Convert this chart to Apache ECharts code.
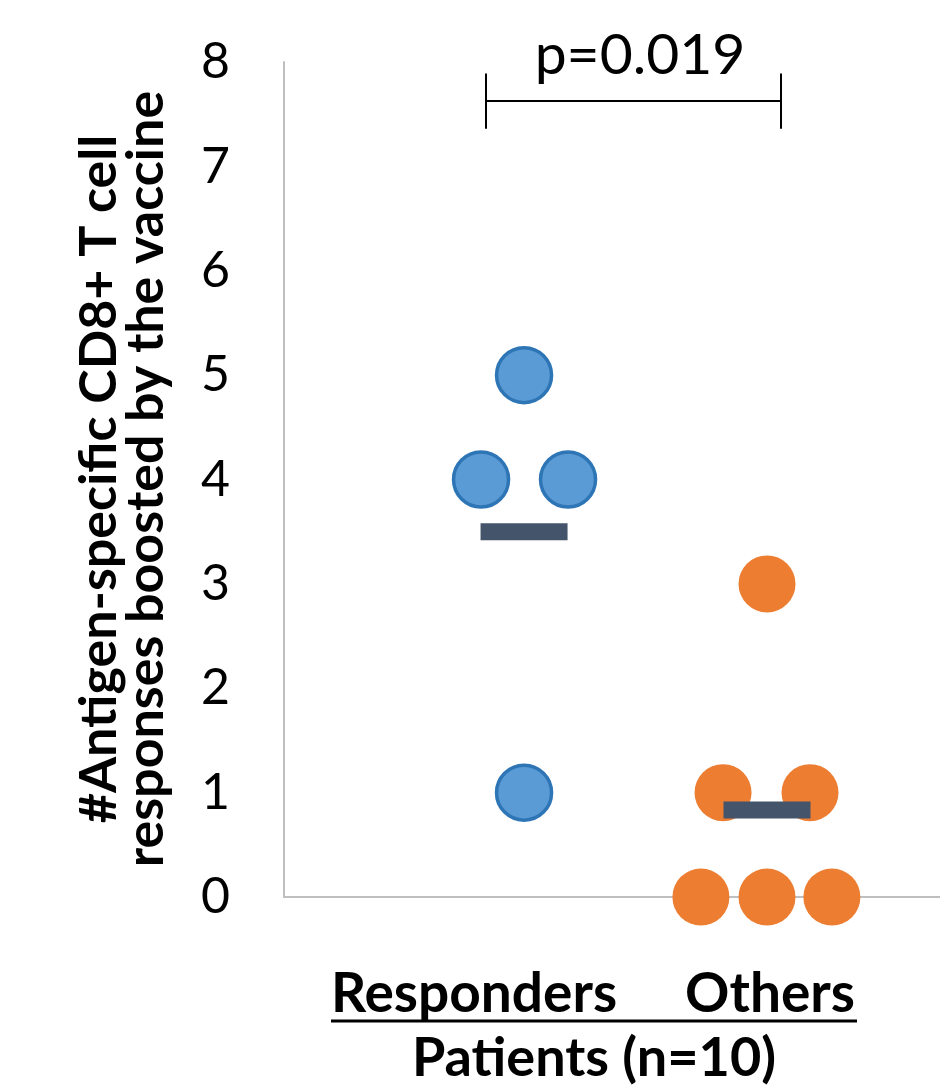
<!DOCTYPE html>
<html>
<head>
<meta charset="utf-8">
<script src="https://cdn.jsdelivr.net/npm/echarts@6/dist/echarts.min.js"></script>
<style>
html,body{margin:0;padding:0;background:#fff;}
#chart{width:940px;height:1086px;}
</style>
</head>
<body>
<div id="chart"></div>
<script>
// ---- data ----
var categories = ['Responders', 'Others'];
var responders = [[1.00, 5], [0.823, 4], [1.181, 4], [1.00, 1]];
var others = [[2.00, 3], [1.819, 1], [2.177, 1], [1.728, 0], [2.00, 0], [2.267, 0]];
var yTicks = [0, 1, 2, 3, 4, 5, 6, 7, 8];
var pValueText = 'p=0.019';
var bracket = { x1: 0.843, x2: 2.057, y: 7.63, top: 7.89, bottom: 7.36 };
var yTitle = ['#Antigen-specific CD8+ T cell', 'responses boosted by the vaccine'];
var xTitle = 'Patients (n=10)';

function mean(arr) {
  var s = 0;
  arr.forEach(function (d) { s += d[1]; });
  return s / arr.length;
}
var meanData = [[1, mean(responders)], [2, mean(others)]];

var FONT = 'Lato';
var chart = echarts.init(document.getElementById('chart'), null, { renderer: 'canvas' });

var option = {
  backgroundColor: '#ffffff',
  animation: false,
  grid: { left: 284, top: 62, right: 0, bottom: 189, containLabel: false },
  xAxis: {
    type: 'value', min: 0.012, max: 2.712,
    axisLine: { show: true, onZero: false, lineStyle: { color: '#BFBFBF', width: 2 } },
    axisTick: { show: false }, axisLabel: { show: false }, splitLine: { show: false }
  },
  yAxis: {
    type: 'value', min: yTicks[0], max: yTicks[yTicks.length - 1], interval: 1,
    axisLine: { show: true, lineStyle: { color: '#BFBFBF', width: 2 } },
    axisTick: { show: false }, splitLine: { show: false },
    axisLabel: { color: '#000', fontFamily: FONT, fontSize: 50, margin: 54 }
  },
  series: [
    {
      type: 'scatter', data: responders, symbol: 'circle', symbolSize: 55,
      itemStyle: { color: '#5B9BD5', borderColor: '#2E75B6', borderWidth: 3.5, opacity: 1 }, z: 3
    },
    {
      type: 'scatter', data: others, symbol: 'circle', symbolSize: 57,
      itemStyle: { color: '#ED7D31', opacity: 1 }, z: 3
    },
    {
      type: 'scatter', data: meanData, symbol: 'rect', symbolSize: [87, 17],
      itemStyle: { color: '#44546A', opacity: 1 }, z: 4
    },
    {
      type: 'lines', coordinateSystem: 'cartesian2d', polyline: false,
      lineStyle: { color: '#000', width: 2, opacity: 1 }, z: 5,
      data: [
        { coords: [[bracket.x1, bracket.y], [bracket.x2, bracket.y]] },
        { coords: [[bracket.x1, bracket.top], [bracket.x1, bracket.bottom]] },
        { coords: [[bracket.x2, bracket.top], [bracket.x2, bracket.bottom]] }
      ]
    }
  ],
  graphic: [
    {
      type: 'text', x: 640, y: 56,
      style: { text: pValueText, font: '57px ' + FONT, fill: '#000', textAlign: 'center', textVerticalAlign: 'middle' }
    },
    {
      type: 'text', x: 123, y: 479, rotation: Math.PI / 2,
      style: { text: yTitle.join('\n'), font: 'bold 52px ' + FONT, fill: '#000', textAlign: 'center', textVerticalAlign: 'middle', lineHeight: 47 }
    },
    {
      type: 'text', x: 474, y: 994,
      style: { text: categories[0], font: 'bold 55px ' + FONT, fill: '#000', textAlign: 'center', textVerticalAlign: 'middle' }
    },
    {
      type: 'text', x: 770, y: 994,
      style: { text: categories[1], font: 'bold 55px ' + FONT, fill: '#000', textAlign: 'center', textVerticalAlign: 'middle' }
    },
    {
      type: 'line', shape: { x1: 331, y1: 1021, x2: 857, y2: 1021 },
      style: { stroke: '#000', lineWidth: 3 }
    },
    {
      type: 'text', x: 594, y: 1059,
      style: { text: xTitle, font: 'bold 54px ' + FONT, fill: '#000', textAlign: 'center', textVerticalAlign: 'middle' }
    }
  ]
};
chart.setOption(option);
</script>
</body>
</html>
